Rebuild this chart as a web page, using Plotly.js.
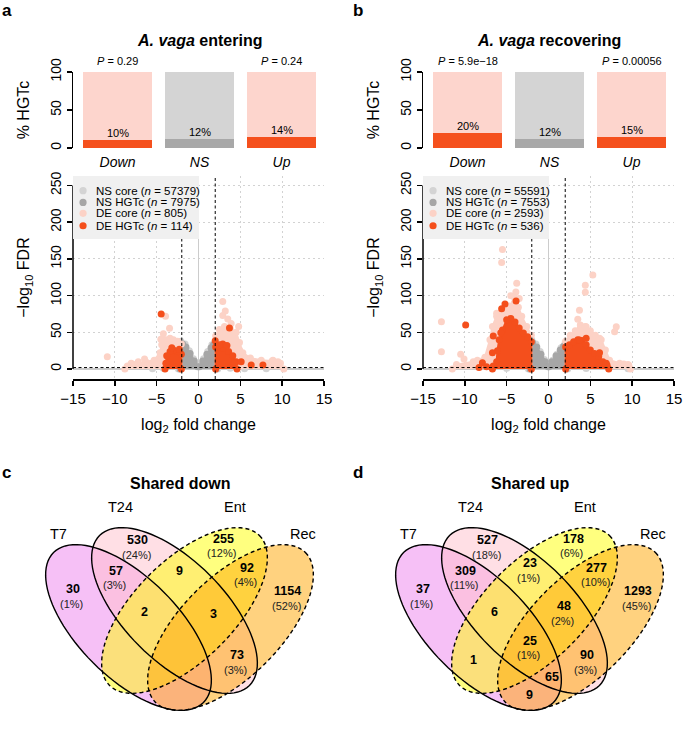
<!DOCTYPE html>
<html><head><meta charset="utf-8">
<script src="https://cdn.plot.ly/plotly-3.0.1.min.js"></script>
<style>html,body{margin:0;padding:0;background:#fff}#chart{width:683px;height:733px}</style>
</head><body><div id="chart"></div>
<script>
// ================= DATA =================
const categories = ['Down', 'NS', 'Up'];
const hgtPctEntering = [10, 12, 14];
const hgtPctRecovering = [20, 12, 15];
const pEntering = ['0.29', '', '0.24'];
const pRecovering = ['5.9e\u221218', '', '0.00056'];

const legendNames = ['NS core', 'NS HGTc', 'DE core', 'DE HGTc'];
const nEntering = [57379, 7975, 805, 114];
const nRecovering = [55591, 7553, 2593, 536];

const fcThreshold = 2;      // |log2 fold change|
const fdrThreshold = 2;     // -log10 FDR

// --- A. vaga entering: dense clouds (outline vertices) and scattered points ---
const nsCoreCloudA_x = [-2.4, -2.4, -2.1, -1.6, -1.1, -0.6, -0.15, 0.15, 0.6, 1.1, 1.6, 2.0, 2.3, 2.3];
const nsCoreCloudA_y = [0, 30, 38, 34, 25, 14, 5, 5, 14, 24, 33, 37, 30, 0];
const nsHgtCloudA_x = [-2.2, -2.2, -1.9, -1.5, -1.0, -0.5, -0.1, 0.1, 0.5, 1.0, 1.5, 1.8, 2.1, 2.1];
const nsHgtCloudA_y = [0, 28, 34, 30, 21, 11, 3, 3, 11, 20, 29, 33, 27, 0];
const nsCorePtsA_x = [-5.5, -4.2, 3.8, 5.5, 8.1];
const nsCorePtsA_y = [0.5, 1.0, 1.0, 0.5, 0.3];
const deCoreCloudA_left_x = [-2.05, -2.05, -2.5, -3.0, -3.4, -3.9, -4.4, -4.6, -5.3, -6.3, -7.4, -8.5, -8.8];
const deCoreCloudA_left_y = [0, 34, 38, 40, 42, 40, 33, 22, 12, 10, 7, 4, 0];
const deCoreCloudA_right_x = [2.05, 2.05, 2.5, 3.1, 3.8, 4.5, 4.9, 5.3, 6.2, 7.5, 8.8, 9.8, 10.2];
const deCoreCloudA_right_y = [0, 45, 54, 58, 55, 50, 36, 22, 15, 12, 11, 8, 0];
const deCorePtsA_x = [-10.9, -6.45, -3.46, -4.5, -3.94, -8.04, -7.2, 2.9, 3.2, 2.9, 3.5, 4.8, 4.9, 8.9, 9.5, -4.2, 3.9];
const deCorePtsA_y = [16.8, 13.6, 55.4, 40.4, 72, 7.7, 10, 92, 79, 73, 68, 58, 26, 12, 10, 48, 62];
const deHgtCloudA_left_x = [-2.05, -2.05, -2.5, -3.0, -3.4, -3.8, -3.9, -4.0];
const deHgtCloudA_left_y = [0, 20, 24, 26, 24, 18, 8, 0];
const deHgtCloudA_right_x = [2.05, 2.05, 2.5, 3.0, 3.6, 4.1, 4.5, 4.6];
const deHgtCloudA_right_y = [0, 30, 30, 28, 24, 18, 10, 0];
const deHgtPtsA_x = [-4.46, -3.19, 2.0, 2.9, 3.4, 3.7, 5.1, 6.3, 7.7, 4.3, -2.3, 2.5];
const deHgtPtsA_y = [75, 29, 38.5, 34, 32, 56, 10, 5.5, 5.5, 8, 27, 33];

// --- A. vaga recovering ---
const nsCoreCloudB_x = [-2.4, -2.4, -2.0, -1.5, -1.0, -0.5, -0.1, 0.1, 0.5, 1.0, 1.5, 2.0, 2.3, 2.3];
const nsCoreCloudB_y = [0, 34, 40, 34, 24, 13, 5, 5, 12, 20, 29, 36, 30, 0];
const nsHgtCloudB_x = [-2.2, -2.2, -1.9, -1.4, -0.9, -0.4, -0.05, 0.05, 0.4, 0.9, 1.4, 1.8, 2.1, 2.1];
const nsHgtCloudB_y = [0, 32, 36, 30, 20, 10, 3, 3, 10, 18, 26, 31, 27, 0];
const nsCorePtsB_x = [-5.0, 4.5, 9.5];
const nsCorePtsB_y = [0.8, 0.8, 0.3];
const deCoreCloudB_left_x = [-2.05, -2.05, -2.6, -3.2, -3.6, -4.1, -4.7, -5.4, -6.2, -6.7, -7.0, -7.6, -9.0, -11.0, -11.5];
const deCoreCloudB_left_y = [0, 46, 58, 72, 84, 90, 86, 80, 72, 58, 40, 16, 10, 6, 0];
const deCoreCloudB_right_x = [2.05, 2.05, 2.6, 3.2, 3.8, 4.4, 5.0, 5.6, 6.3, 6.8, 7.3, 8.5, 9.5, 9.8];
const deCoreCloudB_right_y = [0, 38, 46, 52, 60, 58, 52, 46, 40, 26, 12, 8, 6, 0];
const deCorePtsB_x = [-5.5, -5.6, -3.8, -3.9, -4.1, -3.5, -4.5, -6.2, -12.8, -12.8, -10.5, -10.1, -8.5, 5.3, 4.4, 4.4, 3.7, 3.5, 4.5, 8.1, 7.9, 6.1, 9.0, 9.6];
const deCorePtsB_y = [163, 145, 117, 105, 98, 96, 100, 76, 64.5, 23.6, 20, 13.6, 12, 128, 114, 104.5, 80, 67.7, 57.6, 57.6, 50.8, 42, 7, 5];
const deHgtCloudB_left_x = [-2.05, -2.05, -2.5, -3.0, -3.5, -4.0, -4.5, -5.0, -5.5, -5.9, -6.1, -6.2, -6.6, -6.7];
const deHgtCloudB_left_y = [0, 37, 44, 49, 56, 64, 69, 67, 53, 40, 25, 10, 4, 0];
const deHgtCloudB_right_x = [2.05, 2.05, 2.5, 3.0, 3.5, 4.0, 4.5, 5.0, 5.5, 6.0, 6.5, 7.0, 7.2];
const deHgtCloudB_right_y = [0, 30, 33, 37, 40, 39, 33, 26, 21, 17, 10, 5, 0];
const deHgtPtsB_x = [-3.88, -5.2, -5.6, -9.9, -6.6, -6.7, -7.9, -5.7, -8.3, -7.4, 3.7, 4.5, 6.1, 6.9];
const deHgtPtsB_y = [92.6, 88.6, 82, 60, 45, 22, 8.6, 49.5, 2, 3, 39.5, 41.8, 22, 8];

// --- Venn diagrams ---
const vennSets = ['T7', 'T24', 'Ent', 'Rec'];
const vennRegions = ['T7', 'T24', 'Ent', 'Rec', 'T7_T24', 'T24_Ent', 'Ent_Rec', 'T7_Ent', 'T24_Rec', 'T7_Rec',
                     'T7_T24_Ent', 'T24_Ent_Rec', 'T7_T24_Rec', 'T7_Ent_Rec', 'all'];
const sharedDownCounts = [30, 530, 255, 1154, 57, 9, 92, 0, 73, 0, 2, 3, 0, 0, 0];
const sharedDownPct = ['1%', '24%', '12%', '52%', '3%', '', '4%', '', '3%', '', '', '', '', '', ''];
const sharedUpCounts = [37, 527, 178, 1293, 309, 23, 277, 1, 90, 9, 6, 48, 65, 0, 25];
const sharedUpPct = ['1%', '18%', '6%', '45%', '11%', '1%', '10%', '', '3%', '', '', '2%', '', '', '1%'];

// ================= STYLE / LAYOUT =================
const W = 683, H = 733;
const PX = x => x / W, PY = y => 1 - y / H;
const FONT = 'Liberation Sans, Arial, Helvetica, sans-serif';
const C = {nsCore: '#d4d4d4', nsHgt: '#a6a6a6', deCore: '#fcd2c6', deHgt: '#f44f1c',
           barLight: '#fdd5cd', barDark: '#f5501d', barGreyL: '#d4d4d4', barGreyD: '#a8a8a8'};
const legendColors = [C.nsCore, C.nsHgt, C.deCore, C.deHgt];

const leftX = [PX(73), PX(324)], rightX = [PX(423), PX(674)];
const barY = [PY(148), PY(72)], volY = [PY(379), PY(176)];

const traces = [];
const catIdx = categories.map((c, i) => i);

function addBars(vals, xa, ya) {
  traces.push({type: 'bar', x: catIdx, y: categories.map(() => 100), width: 0.84,
    marker: {color: [C.barLight, C.barGreyL, C.barLight], line: {width: 0}}, xaxis: xa, yaxis: ya, hoverinfo: 'skip'});
  traces.push({type: 'bar', x: catIdx, y: vals, width: 0.84,
    marker: {color: [C.barDark, C.barGreyD, C.barDark], line: {width: 0}}, xaxis: xa, yaxis: ya, hoverinfo: 'skip'});
}
addBars(hgtPctEntering, 'x', 'y');
addBars(hgtPctRecovering, 'x2', 'y2');

function cloud(xs, ys, color, xa, ya) {
  traces.push({type: 'scatter', mode: 'lines+markers', x: xs, y: ys, fill: 'toself', fillcolor: color,
    line: {color: color, width: 2}, marker: {color: color, size: 7, line: {width: 0}},
    xaxis: xa, yaxis: ya, hoverinfo: 'skip', cliponaxis: false});
}
function pts(xs, ys, color, xa, ya) {
  traces.push({type: 'scatter', mode: 'markers', x: xs, y: ys,
    marker: {color: color, size: 7, line: {width: 0}}, xaxis: xa, yaxis: ya, hoverinfo: 'skip', cliponaxis: false});
}
// entering
cloud(nsCoreCloudA_x, nsCoreCloudA_y, C.nsCore, 'x3', 'y3');
pts(nsCorePtsA_x, nsCorePtsA_y, C.nsCore, 'x3', 'y3');
cloud(nsHgtCloudA_x, nsHgtCloudA_y, C.nsHgt, 'x3', 'y3');
cloud(deCoreCloudA_left_x, deCoreCloudA_left_y, C.deCore, 'x3', 'y3');
cloud(deCoreCloudA_right_x, deCoreCloudA_right_y, C.deCore, 'x3', 'y3');
pts(deCorePtsA_x, deCorePtsA_y, C.deCore, 'x3', 'y3');
cloud(deHgtCloudA_left_x, deHgtCloudA_left_y, C.deHgt, 'x3', 'y3');
cloud(deHgtCloudA_right_x, deHgtCloudA_right_y, C.deHgt, 'x3', 'y3');
pts(deHgtPtsA_x, deHgtPtsA_y, C.deHgt, 'x3', 'y3');
// recovering
cloud(nsCoreCloudB_x, nsCoreCloudB_y, C.nsCore, 'x4', 'y4');
pts(nsCorePtsB_x, nsCorePtsB_y, C.nsCore, 'x4', 'y4');
cloud(nsHgtCloudB_x, nsHgtCloudB_y, C.nsHgt, 'x4', 'y4');
cloud(deCoreCloudB_left_x, deCoreCloudB_left_y, C.deCore, 'x4', 'y4');
cloud(deCoreCloudB_right_x, deCoreCloudB_right_y, C.deCore, 'x4', 'y4');
pts(deCorePtsB_x, deCorePtsB_y, C.deCore, 'x4', 'y4');
cloud(deHgtCloudB_left_x, deHgtCloudB_left_y, C.deHgt, 'x4', 'y4');
cloud(deHgtCloudB_right_x, deHgtCloudB_right_y, C.deHgt, 'x4', 'y4');
pts(deHgtPtsB_x, deHgtPtsB_y, C.deHgt, 'x4', 'y4');

// ---------- axes ----------
const barXAxis = d => ({domain: d, range: [-0.5427, 2.518], tickvals: catIdx,
  ticktext: categories.map(c => '<i>' + c + '</i>'), ticks: '', showline: false, showgrid: false,
  zeroline: false, tickfont: {size: 14}, ticklabelstandoff: 4, fixedrange: true});
const barYAxis = () => ({domain: barY, range: [0, 100], tickvals: [0, 50, 100], tickangle: -90,
  ticks: 'outside', ticklen: 5, tickwidth: 1.5, tickcolor: '#000', showline: true, linewidth: 1.5,
  linecolor: '#000', showgrid: false, zeroline: false, tickfont: {size: 14},
  title: {text: '% HGTc', font: {size: 16}, standoff: 14}});
const volXAxis = d => ({domain: d, range: [-15, 15], tickvals: [-15, -10, -5, 0, 5, 10, 15],
  ticks: 'outside', ticklen: 5, tickwidth: 1.5, tickcolor: '#000', showline: true, linewidth: 1.5,
  linecolor: '#000', showgrid: true, gridcolor: '#d2d2d2', gridwidth: 1, griddash: '2px,3px',
  zeroline: true, zerolinecolor: '#cccccc', zerolinewidth: 1.5, tickfont: {size: 15},
  title: {text: 'log<sub>2</sub> fold change', font: {size: 16}, standoff: 13}});
const volYAxis = () => ({domain: volY, range: [-13.6, 263], tickvals: [0, 50, 100, 150, 200, 250],
  tickangle: -90, ticks: 'outside', ticklen: 5, tickwidth: 1.5, tickcolor: '#000', showline: false,
  showgrid: true, gridcolor: '#d2d2d2', gridwidth: 1, griddash: '2px,3px',
  zeroline: true, zerolinecolor: '#cccccc', zerolinewidth: 1.5, tickfont: {size: 14},
  title: {text: '\u2212log<sub>10</sub> FDR', font: {size: 16}, standoff: 14}});

const layout = {
  width: W, height: H, margin: {l: 0, r: 0, t: 0, b: 0}, paper_bgcolor: '#fff', plot_bgcolor: 'rgba(0,0,0,0)',
  font: {family: FONT, color: '#000'}, showlegend: false, barmode: 'overlay', bargap: 0,
  xaxis: Object.assign(barXAxis(leftX), {anchor: 'y'}),
  yaxis: Object.assign(barYAxis(), {anchor: 'x'}),
  xaxis2: Object.assign(barXAxis(rightX), {anchor: 'y2'}),
  yaxis2: Object.assign(barYAxis(), {anchor: 'x2'}),
  xaxis3: Object.assign(volXAxis(leftX), {anchor: 'y3'}),
  yaxis3: Object.assign(volYAxis(), {anchor: 'x3'}),
  xaxis4: Object.assign(volXAxis(rightX), {anchor: 'y4'}),
  yaxis4: Object.assign(volYAxis(), {anchor: 'x4'}),
  shapes: [], annotations: []
};
const S = layout.shapes, A = layout.annotations;
const txt = (o) => Object.assign({showarrow: false, xref: 'paper', yref: 'paper', xanchor: 'center', yanchor: 'middle',
  font: {size: 12}}, o);

// panel labels & titles
[['a', 0, 10], ['b', 351, 10], ['c', 0, 472], ['d', 351, 472]].forEach(([t, x, y]) =>
  A.push(txt({x: PX(x), y: PY(y), xanchor: 'left', text: '<b>' + t + '</b>', font: {size: 17}})));
A.push(txt({x: PX(199.5), y: PY(40), text: '<b><i>A. vaga</i> entering</b>', font: {size: 16}}));
A.push(txt({x: PX(549), y: PY(40), text: '<b><i>A. vaga</i> recovering</b>', font: {size: 16}}));

// bar annotations
function barText(vals, pvals, xa, ya) {
  vals.forEach((v, i) => A.push({xref: xa, yref: ya, x: i, y: v, xanchor: 'center', yanchor: 'bottom', yshift: -1,
    showarrow: false, text: v + '%', font: {size: 11}}));
  pvals.forEach((p, i) => { if (p) A.push({xref: xa, yref: ya, x: i, y: 100, xanchor: 'center', yanchor: 'bottom',
    yshift: 3, showarrow: false, text: '<i>P</i> = ' + p, font: {size: 11}}); });
}
barText(hgtPctEntering, pEntering, 'x', 'y');
barText(hgtPctRecovering, pRecovering, 'x2', 'y2');

// volcano decorations
function volDeco(xa, ya, counts) {
  const xd = xa + ' domain', yd = ya + ' domain';
  S.push({type: 'line', xref: xd, x0: 0, x1: 0, yref: ya, y0: 0, y1: 250, line: {color: '#000', width: 1.5}, layer: 'above'});
  [-fcThreshold, fcThreshold].forEach(t => S.push({type: 'line', xref: xa, x0: t, x1: t, yref: yd, y0: 0, y1: 1,
    line: {color: '#000', width: 1, dash: '3px,2.5px'}, layer: 'above'}));
  S.push({type: 'line', xref: xd, x0: 0, x1: 1, yref: ya, y0: fdrThreshold, y1: fdrThreshold,
    line: {color: '#000', width: 1, dash: '3px,2.5px'}, layer: 'above'});
  S.push({type: 'rect', xref: xd, x0: 0, x1: 0.502, yref: yd, y0: 0.6897, y1: 1,
    fillcolor: '#f0f0f0', line: {width: 0}, layer: 'above'});
  const rows = [0.9276, 0.870, 0.816, 0.755];
  legendNames.forEach((nm, i) => {
    S.push({type: 'circle', xref: xd, yref: yd, xsizemode: 'pixel', ysizemode: 'pixel', xanchor: 0.04, yanchor: rows[i],
      x0: -3.6, x1: 3.6, y0: -3.6, y1: 3.6, fillcolor: legendColors[i], line: {width: 0}, layer: 'above'});
    A.push({xref: xd, yref: yd, x: 0.082, y: rows[i], xanchor: 'left', yanchor: 'middle', showarrow: false,
      text: nm + ' (<i>n</i> = ' + counts[i] + ')', font: {size: 11.5}});
  });
}
volDeco('x3', 'y3', nEntering);
volDeco('x4', 'y4', nRecovering);

// ---------- Venn diagrams ----------
const vennFill = ['rgba(238,130,238,0.5)', 'rgba(255,192,203,0.5)', 'rgba(255,255,0,0.5)', 'rgba(255,165,0,0.5)'];
const vennDash = ['solid', 'solid', '4px,3px', '4px,3px'];
const ellipses = [{dx: -51, cy: 627.5, dir: 1}, {dx: -5, cy: 610.5, dir: 1}, {dx: 5, cy: 610.5, dir: -1}, {dx: 51, cy: 627.5, dir: -1}];
const EA = 106, EB = 50;
const setLabelPos = [[-121, 534], [-59.5, 507], [55.5, 507], [123, 534]];
const regionPos = {T7: [-107, 596.5], T24: [-42, 547.5], Ent: [43.5, 546], Rec: [108, 598.3], T7_T24: [-64, 578],
  T24_Ent: [0, 570.5], Ent_Rec: [67, 575], T7_Ent: [-56, 660], T24_Rec: [57, 662.5], T7_Rec: [0, 695],
  T7_T24_Ent: [-35.5, 612], T24_Ent_Rec: [34, 613.5], T7_T24_Rec: [22, 677], T7_Ent_Rec: [-22, 677], all: [0, 648]};

function ellipsePath(cx, cy, dir) {
  const ux = Math.SQRT1_2, uy = Math.SQRT1_2 * dir;
  let d = '';
  for (let k = 0; k <= 96; k++) {
    const t = 2 * Math.PI * k / 96;
    const x = cx + EA * Math.cos(t) * ux - EB * Math.sin(t) * uy;
    const y = cy + EA * Math.cos(t) * uy + EB * Math.sin(t) * ux;
    d += (k ? 'L' : 'M') + PX(x).toFixed(5) + ',' + PY(y).toFixed(5);
  }
  return d + 'Z';
}
function venn(cx, title, counts, pcts) {
  A.push(txt({x: PX(cx), y: PY(483), text: '<b>' + title + '</b>', font: {size: 16}}));
  ellipses.forEach((e, i) => S.push({type: 'path', xref: 'paper', yref: 'paper', path: ellipsePath(cx + e.dx, e.cy, e.dir),
    fillcolor: vennFill[i], line: {width: 0}}));
  ellipses.forEach((e, i) => S.push({type: 'path', xref: 'paper', yref: 'paper', path: ellipsePath(cx + e.dx, e.cy, e.dir),
    fillcolor: 'rgba(0,0,0,0)', line: {color: '#000', width: 1.4, dash: vennDash[i]}}));
  vennSets.forEach((s, i) => A.push(txt({x: PX(cx + setLabelPos[i][0]), y: PY(setLabelPos[i][1]), text: s, font: {size: 14.5}})));
  vennRegions.forEach((r, i) => {
    if (!counts[i]) return;
    const [dx, y] = regionPos[r];
    const hasPct = !!pcts[i];
    A.push(txt({x: PX(cx + dx), y: PY(hasPct ? y - 7.3 : y), text: '<b>' + counts[i] + '</b>', font: {size: 12.5}}));
    if (hasPct) A.push(txt({x: PX(cx + dx - 1.5), y: PY(y + 7.3), text: '(' + pcts[i] + ')', font: {size: 11, color: '#222'}}));
  });
}
venn(179.5, 'Shared down', sharedDownCounts, sharedDownPct);
venn(529.5, 'Shared up', sharedUpCounts, sharedUpPct);

Plotly.newPlot('chart', traces, layout, {staticPlot: true, displayModeBar: false});
</script></body></html>
